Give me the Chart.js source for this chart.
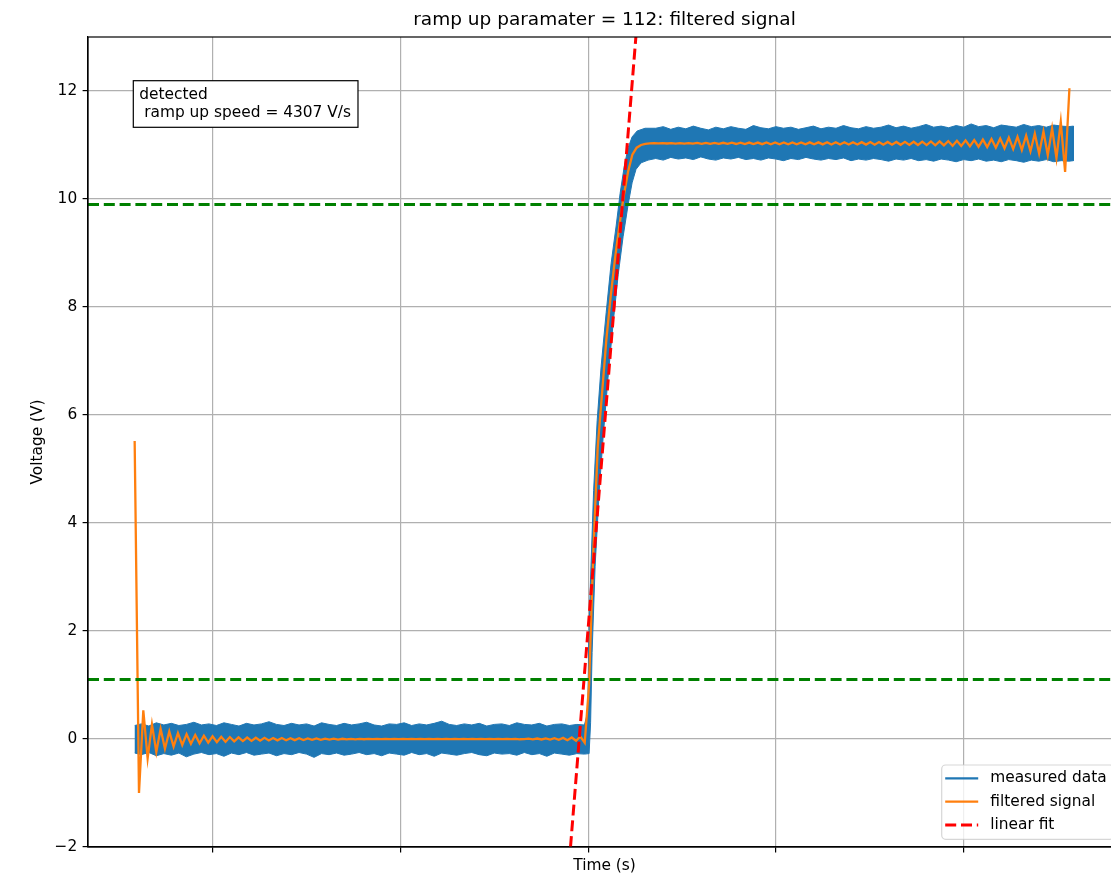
<!DOCTYPE html>
<html>
<head>
<meta charset="utf-8">
<title>ramp up paramater = 112: filtered signal</title>
<script src="https://cdn.jsdelivr.net/npm/chart.js@4.4.0/dist/chart.umd.min.js"></script>
<style>
  html, body { margin: 0; padding: 0; overflow: hidden; background: #ffffff; }
  canvas { display: block; }
</style>
</head>
<body>
<canvas id="chart" width="1124" height="878"></canvas>
<script>
// ---- axis limits and tick spacing ----
const xRange = [0.00336, 0.05838];   // seconds
const xTickStep = 0.01;
const yRange = [-2, 13];             // volts
const yTickStep = 2;

// ---- measured data: noise band before the step (upper / lower edge) ----
const lowTime = [
  0.00585, 0.0062, 0.0066, 0.0070, 0.0074, 0.0078, 0.0082, 0.0086, 0.0090, 0.0094,
  0.0098, 0.0102, 0.0106, 0.0110, 0.0114, 0.0118, 0.0122, 0.0126, 0.0130, 0.0134,
  0.0138, 0.0142, 0.0146, 0.0150, 0.0154, 0.0158, 0.0162, 0.0166, 0.0170, 0.0174,
  0.0178, 0.0182, 0.0186, 0.0190, 0.0194, 0.0198, 0.0202, 0.0206, 0.0210, 0.0214,
  0.0218, 0.0222, 0.0226, 0.0230, 0.0234, 0.0238, 0.0242, 0.0246, 0.0250, 0.0254,
  0.0258, 0.0262, 0.0266, 0.0270, 0.0274, 0.0278, 0.0282, 0.0286, 0.0290, 0.0294,
  0.0298
];
const lowTop = [
  0.25, 0.28, 0.24, 0.30, 0.26, 0.29, 0.25, 0.27, 0.31, 0.26,
  0.28, 0.25, 0.30, 0.27, 0.24, 0.29, 0.26, 0.28, 0.32, 0.27,
  0.25, 0.29, 0.26, 0.28, 0.24, 0.30, 0.27, 0.25, 0.29, 0.26,
  0.28, 0.31, 0.26, 0.24, 0.28, 0.27, 0.30, 0.25, 0.28, 0.26,
  0.29, 0.33, 0.27, 0.25, 0.28, 0.26, 0.29, 0.24, 0.27, 0.28,
  0.25, 0.30, 0.27, 0.26, 0.29, 0.24, 0.27, 0.28, 0.25, 0.27,
  0.26
];
const lowBottom = [
  -0.26, -0.29, -0.25, -0.31, -0.27, -0.30, -0.26, -0.33, -0.28, -0.25,
  -0.29, -0.27, -0.32, -0.26, -0.29, -0.25, -0.30, -0.28, -0.26, -0.31,
  -0.27, -0.29, -0.25, -0.28, -0.34, -0.27, -0.29, -0.26, -0.30, -0.28,
  -0.25, -0.29, -0.27, -0.31, -0.26, -0.28, -0.30, -0.25, -0.29, -0.27,
  -0.32, -0.26, -0.28, -0.30, -0.27, -0.25, -0.29, -0.31, -0.26, -0.28,
  -0.27, -0.30, -0.25, -0.29, -0.27, -0.32, -0.26, -0.28, -0.30, -0.27,
  -0.28
];

// ---- measured data: rising edge (left side going up, right side going up) ----
const rampLeftTime  = [0.02998, 0.03003, 0.03013, 0.03029, 0.03048, 0.03069, 0.03096, 0.03122,
                       0.03149, 0.03170, 0.03192, 0.03213, 0.03234, 0.03261, 0.03303];
const rampLeftVolt  = [0.5, 1.8, 3.0, 4.6, 5.9, 6.9, 7.9, 8.8, 9.5, 10.1, 10.6, 10.95, 11.15, 11.26, 11.31];
const rampRightTime = [0.03005, 0.03013, 0.03021, 0.03037, 0.03059, 0.03080, 0.03106, 0.03133,
                       0.03160, 0.03186, 0.03213, 0.03234, 0.03255, 0.03282, 0.03319];
const rampRightVolt = [-0.27, 0.3, 1.6, 3.2, 4.6, 5.6, 6.7, 7.7, 8.6, 9.3, 9.9, 10.3, 10.55, 10.67, 10.72];

// ---- measured data: noise band after the step (upper / lower edge) ----
const highTime = [
  0.0336, 0.0340, 0.0344, 0.0348, 0.0352, 0.0356, 0.0360, 0.0364, 0.0368, 0.0372,
  0.0376, 0.0380, 0.0384, 0.0388, 0.0392, 0.0396, 0.0400, 0.0404, 0.0408, 0.0412,
  0.0416, 0.0420, 0.0424, 0.0428, 0.0432, 0.0436, 0.0440, 0.0444, 0.0448, 0.0452,
  0.0456, 0.0460, 0.0464, 0.0468, 0.0472, 0.0476, 0.0480, 0.0484, 0.0488, 0.0492,
  0.0496, 0.0500, 0.0504, 0.0508, 0.0512, 0.0516, 0.0520, 0.0524, 0.0528, 0.0532,
  0.0536, 0.0540, 0.0544, 0.0548, 0.0552, 0.0556, 0.05585
];
const highTop = [
  11.31, 11.34, 11.29, 11.33, 11.30, 11.35, 11.31, 11.28, 11.33, 11.30,
  11.34, 11.31, 11.29, 11.36, 11.32, 11.30, 11.34, 11.31, 11.33, 11.29,
  11.32, 11.35, 11.30, 11.33, 11.31, 11.36, 11.32, 11.30, 11.34, 11.31,
  11.33, 11.37, 11.32, 11.35, 11.31, 11.34, 11.38, 11.33, 11.35, 11.32,
  11.36, 11.33, 11.39, 11.34, 11.36, 11.32, 11.37, 11.35, 11.33, 11.38,
  11.34, 11.36, 11.33, 11.37, 11.35, 11.34, 11.35
];
const highBottom = [
  10.75, 10.72, 10.77, 10.74, 10.76, 10.73, 10.78, 10.74, 10.72, 10.76,
  10.74, 10.77, 10.73, 10.75, 10.72, 10.76, 10.74, 10.71, 10.75, 10.73,
  10.77, 10.74, 10.72, 10.75, 10.73, 10.76, 10.71, 10.74, 10.72, 10.75,
  10.73, 10.70, 10.74, 10.72, 10.75, 10.71, 10.73, 10.70, 10.74, 10.72,
  10.69, 10.73, 10.71, 10.74, 10.70, 10.72, 10.69, 10.73, 10.71, 10.68,
  10.72, 10.70, 10.73, 10.69, 10.71, 10.70, 10.71
];

// ---- filtered signal: one sample every filteredStep seconds from filteredStart ----
const filteredStart = 0.005845;
const filteredStep = 0.0002305;
const filteredVolts = [
  5.52, -1.00, 0.53, -0.36, 0.27, -0.24, 0.19, -0.18, 0.14, -0.14,
  0.11, -0.11, 0.09, -0.09, 0.075, -0.08, 0.06, -0.068, 0.05, -0.058,
  0.042, -0.05, 0.036, -0.044, 0.031, -0.039, 0.027, -0.035, 0.024, -0.031,
  0.021, -0.028, 0.019, -0.025, 0.017, -0.023, 0.015, -0.021, 0.013, -0.019,
  0.011, -0.016, 0.009, -0.014, 0.007, -0.012, 0.005, -0.010, 0.004, -0.008,
  0.003, -0.006, 0.002, -0.005, 0.001, -0.004, 0.001, -0.003, 0.000, -0.002,
  0.000, -0.002, 0.000, -0.002, 0.000, -0.001, 0.000, -0.001, 0.000, -0.001,
  0.000, -0.001, 0.000, -0.001, 0.000, -0.001, 0.000, -0.001, 0.000, -0.002,
  0.000, -0.002, 0.001, -0.003, 0.001, -0.003, 0.002, -0.004, 0.003, -0.005,
  -0.004, 0.006, -0.006, 0.009, -0.009, 0.012, -0.012, 0.016, -0.016, 0.021,
  -0.022, 0.028, -0.032, 0.046, -0.07,
  1.0, 3.5, 5.4, 6.4, 7.4, 8.2, 8.9, 9.5, 10.05, 10.5,
  10.82, 10.95, 11.0, 11.02, 11.03,
  11.034, 11.029, 11.035, 11.028, 11.035, 11.027, 11.036, 11.026, 11.036, 11.025,
  11.038, 11.023, 11.039, 11.022, 11.04, 11.021, 11.041, 11.02, 11.042, 11.019,
  11.044, 11.017, 11.045, 11.016, 11.045, 11.015, 11.046, 11.014, 11.047, 11.014,
  11.047, 11.013, 11.048, 11.013, 11.048, 11.012, 11.049, 11.012, 11.049, 11.011,
  11.05, 11.01, 11.051, 11.01, 11.051, 11.009, 11.052, 11.009, 11.053, 11.008,
  11.054, 11.007, 11.055, 11.006, 11.056, 11.005, 11.057, 11.004, 11.058, 11.003,
  11.06, 11.0, 11.062, 10.998, 11.065, 10.995, 11.068, 10.992, 11.073, 10.987,
  11.078, 10.982, 11.085, 10.975, 11.092, 10.968, 11.10, 10.96, 11.11, 10.95,
  11.12, 10.94, 11.135, 10.925, 11.15, 10.91, 11.175, 10.885, 11.21, 10.84,
  11.25, 10.81, 11.31, 10.76, 11.43, 10.50, 12.05
];

// ---- detection thresholds and linear fit of the rising edge ----
const thresholds = [1.1, 9.9];
const fitSlope = 4307;        // V/s
const fitAnchorTime = 0.0308; // s
const fitAnchorVolt = 5.5;    // V

// ---- build the datasets ----
const pts = (ts, vs) => ts.map((t, i) => ({ x: t, y: vs[i] }));
// closed outline of the noise band: upper edge left to right, lower edge right to left
const measuredOutline = [].concat(
  pts(lowTime, lowTop),
  pts(rampLeftTime, rampLeftVolt),
  pts(highTime, highTop),
  pts(highTime, highBottom).reverse(),
  pts(rampRightTime, rampRightVolt).reverse(),
  pts(lowTime, lowBottom).reverse()
);
const filteredPoints = filteredVolts.map((v, i) => ({ x: filteredStart + i * filteredStep, y: v }));
const fitTimeAt = v => fitAnchorTime + (v - fitAnchorVolt) / fitSlope;
const fitPoints = yRange.map(v => ({ x: fitTimeAt(v), y: v }));

const FONT = 'DejaVu Sans';
const DASH = [11, 4.8];

const datasets = [
  {
    label: 'measured data', data: measuredOutline, legendEntry: true, legendWidth: 2.3,
    borderColor: '#1f77b4', backgroundColor: '#1f77b4', borderWidth: 1,
    fill: 'shape', pointRadius: 0, tension: 0, order: 4
  },
  {
    label: 'filtered signal', data: filteredPoints, legendEntry: true,
    borderColor: '#ff7f0e', borderWidth: 2.3, fill: false,
    pointRadius: 0, tension: 0, order: 3
  },
  {
    label: 'linear fit', data: fitPoints, legendEntry: true,
    borderColor: '#ff0000', borderWidth: 3, borderDash: DASH, fill: false,
    pointRadius: 0, order: 2
  }
].concat(thresholds.map(v => ({
  label: 'threshold ' + v, data: [{ x: xRange[0], y: v }, { x: xRange[1], y: v }],
  borderColor: '#008000', borderWidth: 3, borderDash: DASH, fill: false,
  pointRadius: 0, order: 1
})));

// frame, detection note and legend drawn over the plot
const overlay = {
  id: 'overlay',
  afterDatasetsDraw(chart) {
    const { ctx, chartArea: a } = chart;
    ctx.save();

    // axes frame
    ctx.strokeStyle = '#000';
    ctx.lineWidth = 1.2;
    ctx.strokeRect(a.left, a.top, a.right - a.left, a.bottom - a.top);

    // detection note
    ctx.font = '15.4px "' + FONT + '"';
    ctx.textBaseline = 'alphabetic';
    ctx.textAlign = 'left';
    const note = ['detected', ' ramp up speed = ' + fitSlope + ' V/s'];
    const noteW = Math.max(...note.map(s => ctx.measureText(s).width));
    const bx = a.left + 45.3, by = a.top + 43.7;
    const bw = noteW + 13, bh = 46.6;
    ctx.fillStyle = '#fff';
    ctx.fillRect(bx, by, bw, bh);
    ctx.lineWidth = 1.2;
    ctx.strokeStyle = '#000';
    ctx.strokeRect(bx, by, bw, bh);
    ctx.fillStyle = '#000';
    note.forEach((s, i) => ctx.fillText(s, bx + 6, by + 18.6 + i * 17.4));

    // legend
    const entries = chart.data.datasets.filter(d => d.legendEntry);
    const lx = 941.7, ly = 765, lh = 74.3;
    const lw = (a.right - 7) - lx;
    ctx.beginPath();
    ctx.roundRect(lx, ly, lw, lh, 4);
    ctx.fillStyle = 'rgba(255,255,255,0.8)';
    ctx.fill();
    ctx.strokeStyle = 'rgba(204,204,204,0.8)';
    ctx.lineWidth = 1.2;
    ctx.stroke();
    ctx.textBaseline = 'middle';
    entries.forEach((d, i) => {
      const y = ly + 13.3 + i * 23.35;
      ctx.beginPath();
      ctx.setLineDash(d.borderDash || []);
      ctx.strokeStyle = d.borderColor;
      ctx.lineWidth = d.legendWidth || d.borderWidth;
      ctx.moveTo(lx + 3.5, y);
      ctx.lineTo(lx + 36.5, y);
      ctx.stroke();
      ctx.setLineDash([]);
      ctx.fillStyle = '#000';
      ctx.fillText(d.label, lx + 48.5, y);
    });
    ctx.restore();
  }
};

const gridStyle = { color: '#b0b0b0', lineWidth: 1.2, tickColor: '#000', tickLength: 5.4, tickWidth: 1.2 };
const tickFont = { family: FONT, size: 15.4 };

new Chart(document.getElementById('chart'), {
  type: 'line',
  data: { datasets },
  plugins: [overlay],
  options: {
    responsive: false,
    devicePixelRatio: 1,
    animation: false,
    events: [],
    layout: { padding: { left: 0, right: 3, top: 0, bottom: 0 } },
    plugins: {
      legend: { display: false },
      tooltip: { enabled: false },
      title: {
        display: true, fullSize: false,
        text: 'ramp up paramater = 112: filtered signal',
        color: '#000', font: { family: FONT, size: 18.5, weight: 'normal', lineHeight: 1.2 },
        padding: { top: 8.9, bottom: 5.9 }
      }
    },
    scales: {
      x: {
        type: 'linear', min: xRange[0], max: xRange[1],
        ticks: { stepSize: xTickStep, includeBounds: false, autoSkip: false, callback: () => '', font: tickFont },
        grid: gridStyle,
        border: { color: '#000', width: 1.2 },
        title: { display: true, text: 'Time (s)', color: '#000', font: { family: FONT, size: 15.4, lineHeight: 1.2 }, padding: { top: 0, bottom: 3.25 } },
        afterFit: s => { s.height = 31; }
      },
      y: {
        type: 'linear', min: yRange[0], max: yRange[1],
        ticks: {
          stepSize: yTickStep, includeBounds: false, color: '#000', font: tickFont, padding: 5.4,
          callback: v => (v < 0 ? '\u2212' + Math.abs(v) : String(v))
        },
        grid: gridStyle,
        border: { color: '#000', width: 1.2 },
        title: { display: true, text: 'Voltage (V)', color: '#000', font: { family: FONT, size: 15.4, lineHeight: 1.2 }, padding: { top: 28.75, bottom: 0 } },
        afterFit: s => { s.width = 88; }
      }
    }
  }
});
</script>
</body>
</html>
